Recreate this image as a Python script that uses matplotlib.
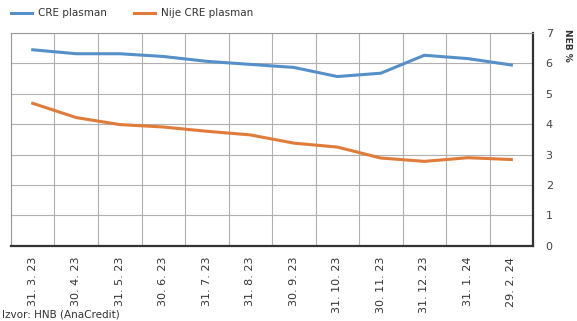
import matplotlib
matplotlib.use("Agg")
import matplotlib.pyplot as plt
import numpy as np

dates = ["31. 3. 23", "30. 4. 23", "31. 5. 23", "30. 6. 23", "31. 7. 23", "31. 8. 23",
         "30. 9. 23", "31. 10. 23", "30. 11. 23", "31. 12. 23", "31. 1. 24", "29. 2. 24"]
cre = [6.45, 6.32, 6.32, 6.23, 6.07, 5.97, 5.87, 5.57, 5.68, 6.27, 6.16, 5.95]
nije_cre = [4.69, 4.22, 3.99, 3.91, 3.77, 3.65, 3.38, 3.25, 2.89, 2.78, 2.90, 2.84]

plt.rcParams["font.family"] = ["Liberation Sans Narrow", "DejaVu Sans"]

fig = plt.figure(figsize=(5.77, 3.21), dpi=100)
ax = fig.add_axes([0.019, 0.234, 0.905, 0.663])

x = np.arange(len(dates))
ax.plot(x, cre, color="#5590c8", lw=2.2, label="CRE plasman")
ax.plot(x, nije_cre, color="#e07b39", lw=2.2, label="Nije CRE plasman")

ax.set_xlim(-0.5, len(dates) - 0.5)
ax.set_ylim(0, 7)
ax.set_xticks(x)
ax.set_xticklabels(dates, rotation=90, fontsize=8, color="#333333")
ax.set_xticks(np.arange(len(dates) + 1) - 0.5, minor=True)
ax.grid(which="minor", axis="x", color="#b0b0b0", lw=0.8)
ax.grid(which="major", axis="y", color="#b0b0b0", lw=0.8)
ax.tick_params(axis="x", which="both", length=0, pad=8)
ax.yaxis.tick_right()
ax.set_yticks(range(0, 8))
ax.tick_params(axis="y", length=0, pad=9, labelsize=8, labelcolor="#444444")

for s in ["left", "top"]:
    ax.spines[s].set_color("#999999")
    ax.spines[s].set_linewidth(0.8)
for s in ["right", "bottom"]:
    ax.spines[s].set_color("#333333")
    ax.spines[s].set_linewidth(1.6)

ax.legend(loc="lower left", bbox_to_anchor=(-0.012, 1.04), ncol=2, frameon=False,
          fontsize=7.5, handlelength=2.0, columnspacing=2.6, handletextpad=0.6,
          labelcolor="#333333", borderaxespad=0.2)

fig.text(0.983, 0.86, "NEB %", rotation=270, fontsize=6.5, color="#333333",
         ha="center", va="center", fontweight="bold")
fig.text(0.004, 0.012, "Izvor: HNB (AnaCredit)", fontsize=7.5, color="#333333")

fig.savefig("out.png", dpi=100)
